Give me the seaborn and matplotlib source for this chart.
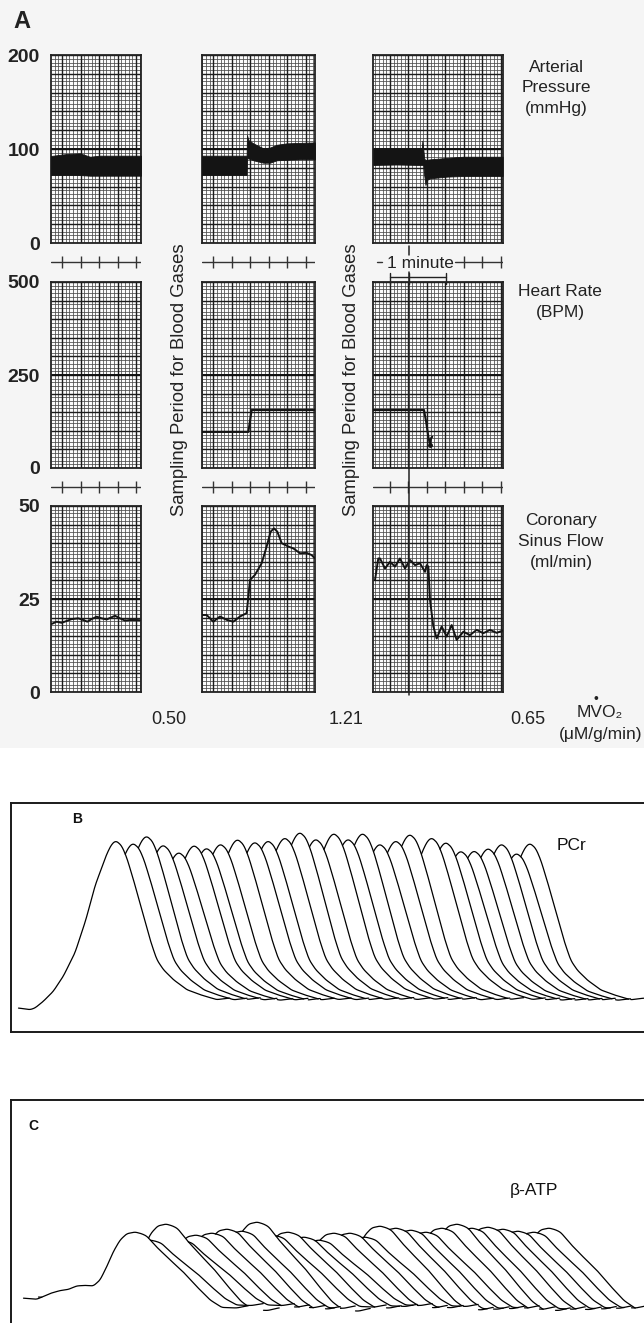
import numpy as np
import pandas as pd
import matplotlib
matplotlib.use("Agg")
import matplotlib.pyplot as plt
import seaborn as sns
from matplotlib.lines import Line2D
from matplotlib.patches import Rectangle

sns.set_theme(style="white")
plt.rcParams['font.family'] = ['Liberation Sans', 'DejaVu Sans']

# ------------------------------------------------------------------ data
# Panel A, time in seconds (0 = first major chart division of each strip)
ap1_t  = [-17.8, 7.6, 29.2, 45.4, 61.6, 128.1]
ap1_lo = [72.3, 72.3, 72.3, 71.6, 71.6, 71.6]
ap1_hi = [92.6, 94.7, 95.4, 91.8, 92.9, 92.9]

ap2_t  = [-18.3, 54.0, 54.6, 56.8, 64.9, 81.1, 91.9, 102.8, 119.0, 140.6, 164.9]
ap2_lo = [72.3, 72.3, 90.0, 90.0, 88.0, 85.4, 85.4, 88.0, 88.5, 89.0, 89.0]
ap2_hi = [92.9, 92.9, 114.9, 109.6, 106.0, 100.7, 101.5, 104.5, 106.0, 106.5, 107.0]

ap3_t  = [-27.1, 10.8, 48.6, 51.5, 52.5, 54.0, 55.5, 57.5, 59.5, 64.9, 91.9, 118.9, 182.7]
ap3_lo = [83.0, 83.5, 83.0, 83.0, 83.0, 83.0, 72.0, 61.7, 67.0, 68.8, 70.6, 71.3, 71.3]
ap3_hi = [100.0, 99.5, 100.0, 100.0, 108.8, 100.0, 90.0, 88.0, 88.5, 89.0, 90.5, 91.8, 91.8]

hr2_t = [-18.3, 56.8, 62.2, 164.9]
hr2   = [97, 97, 156, 156]
hr3_t = [-27.1, 55.1, 58.5, 62.2, 64.9, 66.5, 68.5]
hr3   = [156, 156, 125, 84, 62, 80, 84]

csf1_t = [-16.75, -8.65, -0.54, 7.57, 15.68, 26.48, 34.59, 41.08, 48.11, 56.22,
          64.32, 72.43, 80.54, 85.94, 94.05, 102.16, 110.27, 121.08, 126.48]
csf1   = [18.3, 18.9, 18.6, 19.1, 19.6, 19.8, 19.35, 18.9, 19.6, 20.25,
          19.8, 19.5, 20.1, 20.5, 19.8, 19.2, 19.35, 19.35, 19.3]
csf2_t = [-18.3, -10.75, 0.0, 10.8, 21.6, 32.4, 43.3, 54.1, 56.8, 59.5, 67.6, 78.4,
          86.5, 93.0, 98.4, 103.8, 110.9, 121.7, 129.8, 140.6, 151.4, 159.5, 164.9]
csf2   = [20.7, 20.7, 18.9, 20.3, 19.4, 18.9, 20.3, 21.2, 25.6, 30.1, 31.5, 34.6,
          39.1, 43.1, 44.0, 43.1, 40.0, 39.1, 38.6, 37.3, 37.4, 36.8, 35.9]
csf3_t = [-24.3, -19.0, -16.2, -8.1, 0.0, 8.1, 16.2, 24.3, 32.4, 40.5, 48.6, 56.8, 59.5,
          62.2, 64.9, 70.3, 75.7, 83.8, 91.9, 100.0, 108.1, 118.9, 129.7, 140.5, 151.3,
          162.2, 173.0, 182.7]
csf3   = [30.1, 35.9, 35.9, 33.2, 35.0, 33.7, 35.9, 33.2, 35.5, 34.1, 34.6, 32.3, 34.1,
          33.7, 24.7, 17.6, 14.4, 17.6, 14.9, 18.0, 14.0, 16.2, 15.3, 16.7, 15.8,
          16.7, 15.9, 16.5]

mvo2_values = ["0.50", "1.21", "0.65"]

# Panel B: PCr stack (peak position, peak height), lineshape
pcr_peak_x = [116, 133.3, 146.7, 163.3, 179, 194.3, 206.7, 220.7, 237.7, 255, 268.3, 285,
              300, 316, 334, 348.3, 362.7, 380, 396, 410, 431.7, 446, 461, 474.3, 488.3,
              501.7, 516.7, 530]
pcr_height = [167.3, 164.7, 172, 163, 155.7, 162.7, 160, 164, 168.7, 166, 167.3, 170.3,
              175.7, 169, 174.7, 169, 174.7, 164, 167.3, 173.7, 170.3, 165.7, 157, 157.3,
              159.7, 164, 154.7, 164.7]
pcr_shape_dx = [-97.7, -86, -81, -72.7, -62.7, -52.7, -41, -30, -21, -9.3, -4.3, 0, 5.7,
                10.7, 17.3, 25.7, 34, 40.7, 47.3, 57.3, 70.7, 84, 100.7, 114]
pcr_shape = [0.0, -0.01, 0.0, 0.04, 0.10, 0.19, 0.33, 0.53, 0.73, 0.92, 0.98, 1.0, 0.97,
             0.90, 0.77, 0.59, 0.41, 0.29, 0.23, 0.17, 0.11, 0.08, 0.05, 0.06]

# Panel C: beta-ATP stack
atp_peak_x = [135, 150, 166, 181, 196, 212, 227, 242, 257, 273, 288, 304, 319, 334, 350,
              365, 380, 396, 411, 426, 442, 457, 472, 488, 503, 518, 534, 549]
atp_height = [58, 50, 66, 50, 55, 57, 61, 59, 68, 55, 58, 53, 50, 57, 57, 53, 64, 62, 60,
              58, 62, 66, 62, 63, 61, 59, 58, 62]
atp_shape_dx = [-111.7, -98.3, -85, -75, -66.7, -58.3, -50, -41.7, -35, -28.3, -21.7, -15,
                -8.3, 0, 6.7, 11.7, 21.7, 35, 48.3, 61.7, 75, 86.7, 101.7, 113.3]
atp_shape = [-0.14, -0.16, -0.06, -0.01, 0.01, 0.07, 0.08, 0.07, 0.17, 0.40, 0.66, 0.86,
             0.97, 1.0, 0.97, 0.93, 0.74, 0.52, 0.31, 0.06, -0.17, -0.30, -0.31, -0.27]

# ------------------------------------------------------------------ layout helpers
W, H = 644, 1323
fig = plt.figure(figsize=(W / 100, H / 100), dpi=100)
fig.patch.set_facecolor("white")


def ax_px(x0, y0, x1, y1, **kw):
    return fig.add_axes([x0 / W, 1 - y1 / H, (x1 - x0) / W, (y1 - y0) / H], **kw)


def ftext(x, y, s, **kw):
    return fig.text(x / W, 1 - y / H, s, **kw)


# light scan tone behind panel A
fig.add_artist(Rectangle((0, 1 - 748 / H), 1, 748 / H, transform=fig.transFigure,
                         color="#f5f5f5", zorder=-10, lw=0))

MINOR_C, MAJOR_C = "#4a4a4a", "#1c1c1c"
PX_PER_S = 18.5 / 30.0
INK = "#222222"

cols = [  # (x0, x1, px of t=0)
    (51, 141, 62.0),
    (202, 315, 213.3),
    (373, 503, 390.0),
]
rows = [  # (y0, y1, ymax, major, minor)
    (55, 243, 200, 20, 4),
    (282, 468, 500, 50, 10),
    (506, 692, 50, 5, 1),
]


def xlim_for(c):
    x0, x1, z = c
    return ((x0 - z) / PX_PER_S, (x1 - z) / PX_PER_S)


def grid_panel(c, r):
    x0, x1, _ = c
    y0, y1, ymax, ymaj, ymin = r
    ax = ax_px(x0, y0, x1, y1)
    xl = xlim_for(c)
    ax.set_xlim(xl)
    ax.set_ylim(0, ymax)
    ax.set_facecolor("#fbfbfb")
    xm = np.arange(np.ceil(xl[0] / 6) * 6, xl[1], 6)
    xM = np.arange(np.ceil(xl[0] / 30) * 30, xl[1], 30)
    ym = np.arange(0, ymax + 1e-9, ymin)
    yM = np.arange(0, ymax + 1e-9, ymaj)
    ax.vlines(xm, 0, ymax, color=MINOR_C, lw=0.55, zorder=0)
    ax.hlines(ym, *xl, color=MINOR_C, lw=0.55, zorder=0)
    ax.vlines(xM, 0, ymax, color=MAJOR_C, lw=1.0, zorder=1)
    ax.hlines(yM, *xl, color=MAJOR_C, lw=1.0, zorder=1)
    ax.hlines([ymax / 2], *xl, color="#111111", lw=1.4, zorder=1)
    for s in ax.spines.values():
        s.set_color(INK)
        s.set_linewidth(1.3)
        s.set_visible(True)
    ax.set_xticks([])
    ax.set_yticks([])
    return ax


axes = [[grid_panel(c, r) for c in cols] for r in rows]

# y tick labels (left column only)
for r, ax in zip(rows, [a[0] for a in axes]):
    ymax = r[2]
    ax.set_yticks([0, ymax / 2, ymax])
    ax.set_yticklabels(["0", f"{ymax / 2:g}", f"{ymax:g}"], fontsize=14,
                       fontweight="bold", color=INK)
    ax.tick_params(axis="y", length=0, pad=8)

TRACE = "#141414"

# arterial pressure (pulsatile band)
for ax, t, lo, hi in zip(axes[0], [ap1_t, ap2_t, ap3_t], [ap1_lo, ap2_lo, ap3_lo],
                         [ap1_hi, ap2_hi, ap3_hi]):
    ax.fill_between(t, lo, hi, color=TRACE, lw=0.6, edgecolor=TRACE, zorder=3)

# heart rate
for ax, t, v in [(axes[1][1], hr2_t, hr2), (axes[1][2], hr3_t, hr3)]:
    sns.lineplot(x=t, y=v, ax=ax, color=TRACE, lw=1.5, sort=False, estimator=None,
                 legend=False, zorder=3)
axes[1][2].plot(hr3_t[4:5], hr3[4:5], "o", color=TRACE, ms=2.5, zorder=4)

# coronary sinus flow
for ax, t, v in zip(axes[2], [csf1_t, csf2_t, csf3_t], [csf1, csf2, csf3]):
    sns.lineplot(x=t, y=v, ax=ax, color=TRACE, lw=1.4, sort=False, estimator=None,
                 legend=False, zorder=3)

for row in axes:
    for ax in row:
        ax.set_xlabel("")
        ax.set_ylabel("")


# tick rows between strips
def tick_row(c, y, segs=None, ticks=None):
    x0, x1, z = c
    ax = ax_px(x0, y - 6, x1, y + 6)
    xl = xlim_for(c)
    ax.set_xlim(xl)
    ax.set_ylim(-1, 1)
    ax.axis("off")
    if segs is None:
        segs = [xl]
    for a, b in segs:
        ax.plot([a, b], [0, 0], color="#333333", lw=1.0)
    if ticks is None:
        ticks = np.arange(np.ceil(xl[0] / 30) * 30, xl[1] + 1, 30)
    ax.plot(ticks, np.zeros(len(ticks)), "|", color="#333333", ms=8, mew=1.0)
    return ax


for yrow in (262, 487):
    tick_row(cols[0], yrow)
    tick_row(cols[1], yrow)
tick_row(cols[2], 487)
xl3 = xlim_for(cols[2])
tick_row(cols[2], 262, segs=[(xl3[0] + 4 / PX_PER_S, xl3[0] + 9 / PX_PER_S), (105, xl3[1])],
         ticks=[120, 150, 180])
ftext(420, 263, "1 minute", ha="center", va="center", fontsize=12.5, color=INK)

# event marker line and 1-minute bracket in the third strip
fig.add_artist(Line2D([409 / W, 409 / W], [1 - 246 / H, 1 - 255 / H], color=INK, lw=1.1))
fig.add_artist(Line2D([409 / W, 409 / W], [1 - 272 / H, 1 - 695 / H], color=INK, lw=1.1))
fig.add_artist(Line2D([390 / W, 446 / W], [1 - 277 / H, 1 - 277 / H], color=INK, lw=1.0))
for xb in (390, 409, 446):
    fig.add_artist(Line2D([xb / W, xb / W], [1 - 273 / H, 1 - 284 / H], color=INK, lw=1.0))

# vertical annotation
for xc in (180, 352):
    ftext(xc, 380, "Sampling Period for Blood Gases", rotation=90, ha="center",
          va="center", fontsize=13.3, color=INK)

# right-hand labels
ftext(13, 22, "A", fontsize=17, fontweight="bold", ha="left", va="center", color=INK)
ftext(556, 88, "Arterial\nPressure\n(mmHg)", ha="center", va="center", fontsize=12.5,
      linespacing=1.5, color=INK)
ftext(560, 302, "Heart Rate\n(BPM)", ha="center", va="center", fontsize=12.5,
      linespacing=1.5, color=INK)
ftext(561, 542, "Coronary\nSinus Flow\n(ml/min)", ha="center", va="center", fontsize=12.5,
      linespacing=1.5, color=INK)
for xc, s in zip((169, 346, 528), mvo2_values):
    ftext(xc, 719, s, ha="center", va="center", fontsize=13, color=INK)
ftext(600, 713, "MVO\u2082", ha="center", va="center", fontsize=12.5, color=INK)
ftext(596, 699, "\u2022", ha="center", va="center", fontsize=10, color=INK)
ftext(601, 734, "(\u03bcM/g/min)", ha="center", va="center", fontsize=12.5, color=INK)


# ------------------------------------------------------------------ stacked spectra
def stacked(ax, peak_x, heights, sdx, shp, xgrid):
    dxf = np.arange(sdx[0], sdx[-1] + 0.01, 0.5)
    sf = np.interp(dxf, sdx, shp)
    k = 9
    sf = np.convolve(np.pad(sf, k // 2, mode="edge"), np.ones(k) / k, mode="valid")
    env = np.full(xgrid.shape, -np.inf)
    rows_ = []
    seg = 0
    for p, h in zip(peak_x, heights):
        y = h * np.interp(xgrid - p, dxf, sf, left=np.nan, right=np.nan)
        valid = ~np.isnan(y)
        vis = valid & (y >= env - 0.2)
        idx = np.where(vis)[0]
        if len(idx):
            breaks = np.where(np.diff(idx) > 1)[0]
            starts = np.r_[0, breaks + 1]
            ends = np.r_[breaks + 1, len(idx)]
            for a, b in zip(starts, ends):
                ii = idx[a:b]
                if len(ii) < 3:
                    continue
                rows_.append(pd.DataFrame({"x": xgrid[ii], "y": y[ii], "seg": seg}))
                seg += 1
        env = np.where(valid, np.maximum(env, np.nan_to_num(y, nan=-np.inf)), env)
    df = pd.concat(rows_, ignore_index=True)
    sns.lineplot(data=df, x="x", y="y", units="seg", estimator=None, sort=False,
                 color="black", lw=0.9, ax=ax, legend=False)
    ax.set_xlabel("")
    ax.set_ylabel("")


def frame_axes(x0, y0, x1, y1, base_y):
    ax = ax_px(x0, y0, x1, y1)
    ax.set_xlim(x0, x1)
    ax.set_ylim(base_y - y1, base_y - y0)
    ax.set_xticks([])
    ax.set_yticks([])
    ax.set_facecolor("white")
    for s in ax.spines.values():
        s.set_visible(True)
        s.set_color("#1a1a1a")
        s.set_linewidth(1.4)
    return ax


xgrid = np.arange(10, 646, 0.25)
axB = frame_axes(11, 803, 648, 1032, 1008)
stacked(axB, pcr_peak_x, pcr_height, pcr_shape_dx, pcr_shape, xgrid)
ftext(77, 819, "B", fontsize=10, fontweight="bold", ha="center", va="center", color="#111111")
ftext(572, 845, "PCr", fontsize=12.5, ha="center", va="center", color="#111111")

axC = frame_axes(11, 1100, 648, 1335, 1290)
stacked(axC, atp_peak_x, atp_height, atp_shape_dx, atp_shape, xgrid)
ftext(33, 1126, "C", fontsize=10, fontweight="bold", ha="center", va="center", color="#111111")
ftext(534, 1191, "\u03b2-ATP", fontsize=12.5, ha="center", va="center", color="#111111")

fig.savefig("out.png", dpi=100, facecolor=fig.get_facecolor())
